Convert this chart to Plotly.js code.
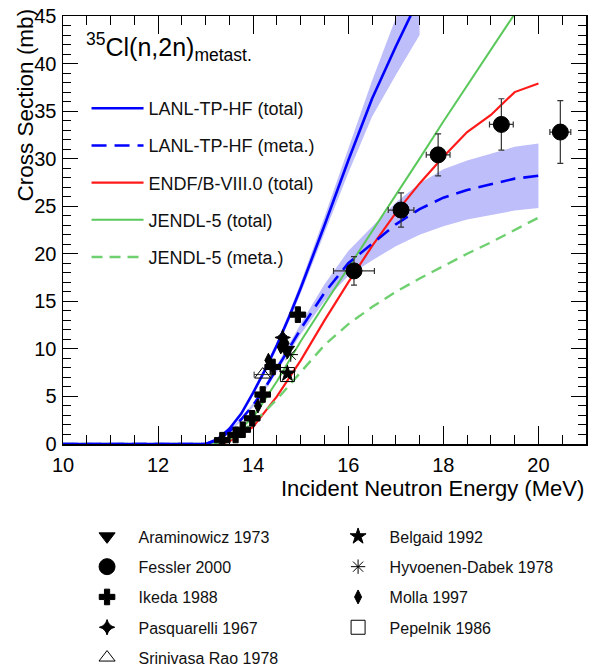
<!DOCTYPE html>
<html>
<head>
<meta charset="utf-8">
<script src="https://cdn.plot.ly/plotly-3.0.1.min.js"></script>
<style>html,body{margin:0;padding:0;background:#fff;}#chart{width:603px;height:667px;}</style>
</head>
<body>
<div id="chart"></div>
<script>
// ---- evaluated curves ----
var lanlTotalE = [10, 12, 13.0, 13.25, 13.5, 13.75, 14.0, 14.25, 14.5, 14.75, 15.0, 15.5, 16.0, 16.5, 17.0, 17.5];
var lanlTotalS = [0, 0, 0, 0.5, 1.6, 3.2, 5.4, 7.8, 10.4, 13.3, 16.4, 23.0, 29.8, 36.3, 41.8, 47.0];
var lanlTotalErr = [0, 0, 0, 0.05, 0.1, 0.15, 0.2, 0.3, 0.35, 0.45, 0.55, 0.9, 1.3, 1.9, 3.0, 4.0];

var lanlMetaE = [10, 12, 13.0, 13.25, 13.5, 13.75, 14.0, 14.25, 14.5, 14.75, 15.0, 15.5, 16.0, 16.5, 17.0, 17.5, 18.0, 18.5, 19.0, 19.5, 20.0];
var lanlMetaS = [0, 0, 0, 0.4, 1.3, 2.6, 4.1, 5.9, 7.9, 10.0, 12.1, 15.9, 19.0, 21.1, 23.1, 24.7, 25.9, 26.7, 27.3, 27.9, 28.2];
var lanlMetaErr = [0, 0, 0, 0.05, 0.1, 0.15, 0.2, 0.3, 0.35, 0.45, 0.55, 0.9, 1.3, 1.8, 2.3, 2.7, 3.0, 3.1, 3.25, 3.35, 3.4];

var endfE = [10, 13.3, 13.5, 14.0, 14.5, 15.0, 15.5, 16.0, 16.5, 17.0, 17.5, 18.0, 18.5, 19.0, 19.5, 20.0];
var endfS = [0, 0, 0.3, 1.8, 5.0, 8.8, 13.0, 17.0, 20.8, 24.3, 27.4, 30.2, 32.8, 34.6, 37.0, 37.9];

var jendlTotalE = [10, 13.3, 13.5, 14.0, 14.5, 15.0, 15.5, 16.0, 16.5, 17.0, 17.5, 18.0, 18.5, 19.0, 19.5, 20.0];
var jendlTotalS = [0, 0, 0.6, 2.8, 6.6, 10.8, 14.7, 18.5, 22.4, 26.2, 30.0, 33.9, 37.7, 41.5, 45.3, 49.0];

var jendlMetaE = [10, 13.3, 13.5, 14.0, 14.5, 15.0, 15.5, 16.0, 16.5, 17.0, 17.5, 18.0, 18.5, 19.0, 19.5, 20.0];
var jendlMetaS = [0, 0, 0.5, 2.2, 4.7, 7.5, 10.4, 12.6, 14.4, 16.0, 17.4, 18.7, 20.0, 21.2, 22.5, 23.8];

// ---- experimental data ----
var fesslerE = [16.12, 17.11, 17.89, 19.22, 20.46];
var fesslerS = [18.2, 24.6, 30.4, 33.6, 32.8];
var fesslerDE = [0.43, 0.27, 0.25, 0.25, 0.22];
var fesslerDS = [1.5, 1.8, 2.2, 2.7, 3.3];

var ikedaE = [13.35, 13.63, 13.78, 13.98, 14.2, 14.41, 14.94];
var ikedaS = [0.4, 0.95, 1.5, 2.7, 5.2, 8.1, 13.6];

var mollaE = [14.1, 14.32, 14.58, 14.68, 14.72];
var mollaS = [4.0, 8.8, 10.2, 10.6, 9.7];

var araminowiczE = [14.7];
var araminowiczS = [9.9];

var belgaidE = [14.72];
var belgaidS = [7.4];

var hyvoenenE = [14.79];
var hyvoenenS = [9.4];

var pasquarelliE = [14.62];
var pasquarelliS = [11.2];

var pepelnikE = [14.72];
var pepelnikS = [7.3];

var srinivasaE = [14.2];
var srinivasaS = [7.3];
var srinivasaDE = [0.18];

var FONT = 'Liberation Sans, Arial, Helvetica, sans-serif';
var BAND = 'rgb(190,190,250)';

function addArr(a, b, s) { return a.map(function (v, i) { return v + s * b[i]; }); }

var traces = [];
// bands
traces.push({x: lanlTotalE, y: addArr(lanlTotalS, lanlTotalErr, -1), mode: 'lines', line: {width: 0, color: BAND}, showlegend: false, hoverinfo: 'skip'});
traces.push({x: lanlTotalE, y: addArr(lanlTotalS, lanlTotalErr, 1), mode: 'lines', line: {width: 0, color: BAND}, fill: 'tonexty', fillcolor: BAND, showlegend: false, hoverinfo: 'skip'});
traces.push({x: lanlMetaE, y: addArr(lanlMetaS, lanlMetaErr, -1), mode: 'lines', line: {width: 0, color: BAND}, showlegend: false, hoverinfo: 'skip'});
traces.push({x: lanlMetaE, y: addArr(lanlMetaS, lanlMetaErr, 1), mode: 'lines', line: {width: 0, color: BAND}, fill: 'tonexty', fillcolor: BAND, showlegend: false, hoverinfo: 'skip'});

var legendLines = [];
legendLines.push({x: lanlTotalE, y: lanlTotalS, name: 'LANL-TP-HF (total)', mode: 'lines', line: {color: '#0000ff', width: 2.6}, legend: 'legend', legendgroup: 'a', legendrank: 1});
legendLines.push({x: lanlMetaE, y: lanlMetaS, name: 'LANL-TP-HF (meta.)', mode: 'lines', line: {color: '#0000ff', width: 2.6, dash: '15px,8px'}, legend: 'legend', legendgroup: 'b', legendrank: 2});
legendLines.push({x: endfE, y: endfS, name: 'ENDF/B-VIII.0 (total)', mode: 'lines', line: {color: '#ff1a1a', width: 2.2}, legend: 'legend', legendgroup: 'c', legendrank: 3});
legendLines.push({x: jendlTotalE, y: jendlTotalS, name: 'JENDL-5 (total)', mode: 'lines', line: {color: '#5ac85a', width: 2.0}, legend: 'legend', legendgroup: 'd', legendrank: 4});
legendLines.push({x: jendlMetaE, y: jendlMetaS, name: 'JENDL-5 (meta.)', mode: 'lines', line: {color: '#6fd06f', width: 2.4, dash: '11px,7px'}, legend: 'legend', legendgroup: 'e', legendrank: 5});
// draw order: red, green first, blue on top
traces.push(legendLines[2], legendLines[3], legendLines[4], legendLines[1], legendLines[0]);

function pts(name, x, y, sym, size, leg, grp, rank, extra) {
  var t = {x: x, y: y, name: name, mode: 'markers', legend: leg, legendgroup: grp, legendrank: rank,
    marker: {symbol: sym, size: size, color: '#000', line: {color: '#000', width: 1}}};
  for (var k in extra) t[k] = extra[k];
  return t;
}
var ebar = {color: '#333', thickness: 1.2, width: 3};
traces.push(pts('Araminowicz 1973', araminowiczE, araminowiczS, 'triangle-down', 14, 'legend2', 'p1', 1));
traces.push(pts('Fessler 2000', fesslerE, fesslerS, 'circle', 16, 'legend2', 'p2', 2, {
  error_x: {type: 'data', array: fesslerDE, color: ebar.color, thickness: ebar.thickness, width: ebar.width},
  error_y: {type: 'data', array: fesslerDS, color: ebar.color, thickness: ebar.thickness, width: ebar.width}}));
traces.push(pts('Ikeda 1988', ikedaE, ikedaS, 'cross', 13, 'legend2', 'p3', 3));
traces.push(pts('Pasquarelli 1967', pasquarelliE, pasquarelliS, 'star-diamond', 11, 'legend2', 'p4', 4));
traces.push(pts('Srinivasa Rao 1978', srinivasaE, srinivasaS, 'triangle-up-open', 14, 'legend2', 'p5', 5, {
  error_x: {type: 'data', array: srinivasaDE, color: ebar.color, thickness: 1, width: 3}}));
traces.push(pts('Belgaid 1992', belgaidE, belgaidS, 'star', 12, 'legend3', 'q1', 1));
traces.push(pts('Hyvoenen-Dabek 1978', hyvoenenE, hyvoenenS, 'asterisk-open', 12, 'legend3', 'q2', 2));
traces.push(pts('Molla 1997', mollaE, mollaS, 'diamond-tall', 10, 'legend3', 'q3', 3));
traces.push(pts('Pepelnik 1986', pepelnikE, pepelnikS, 'square-open', 14, 'legend3', 'q4', 4));

var layout = {
  width: 603, height: 667,
  margin: {l: 63, r: 17, t: 16, b: 223, pad: 0, autoexpand: false},
  paper_bgcolor: '#fff', plot_bgcolor: '#fff',
  font: {family: FONT, size: 20, color: '#000'},
  showlegend: true,
  xaxis: {
    range: [10, 21], tick0: 10, dtick: 2, ticks: 'inside', ticklen: 18, tickwidth: 1, tickcolor: '#000',
    showline: true, linecolor: '#000', linewidth: 1.5, mirror: 'ticks', showgrid: false, zeroline: false,
    tickfont: {family: FONT, size: 20}, ticklabelstandoff: 2, automargin: false,
    minor: {dtick: 0.5, ticks: 'inside', ticklen: 9, tickcolor: '#000', tickwidth: 1, showgrid: false}
  },
  yaxis: {
    range: [0, 45], tick0: 0, dtick: 5, ticks: 'inside', ticklen: 15, tickwidth: 1, tickcolor: '#000',
    showline: true, linecolor: '#000', linewidth: 1.5, mirror: 'ticks', showgrid: false, zeroline: false,
    tickfont: {family: FONT, size: 20}, ticklabelstandoff: 1, automargin: false,
    minor: {dtick: 1, ticks: 'inside', ticklen: 8, tickcolor: '#000', tickwidth: 1, showgrid: false}
  },
  legend: {x: 0.045, y: 0.827, xanchor: 'left', yanchor: 'top', bgcolor: 'rgba(0,0,0,0)', borderwidth: 0,
    font: {family: FONT, size: 18, color: '#111'}, tracegroupgap: 10.8, itemwidth: 52, traceorder: 'grouped'},
  legend2: {x: 0.024, y: -0.1763, xanchor: 'left', yanchor: 'top', bgcolor: 'rgba(0,0,0,0)', borderwidth: 0,
    font: {family: FONT, size: 16, color: '#111'}, tracegroupgap: 6.5, itemwidth: 53, traceorder: 'grouped'},
  legend3: {x: 0.504, y: -0.1763, xanchor: 'left', yanchor: 'top', bgcolor: 'rgba(0,0,0,0)', borderwidth: 0,
    font: {family: FONT, size: 16, color: '#111'}, tracegroupgap: 6.5, itemwidth: 53, traceorder: 'grouped'},
  annotations: [
    {xref: 'paper', yref: 'paper', x: 0.04, y: 0.927, xanchor: 'left', yanchor: 'middle', showarrow: false,
      text: '<sup>35</sup>Cl(n,2n)<sub>metast.</sub>', font: {family: FONT, size: 25, color: '#000'}},
    {xref: 'paper', yref: 'paper', x: 1, y: -0.103, xanchor: 'right', yanchor: 'middle', showarrow: false,
      text: 'Incident Neutron Energy (MeV)', font: {family: FONT, size: 22, color: '#000'}},
    {xref: 'paper', yref: 'paper', x: -0.072, y: 1.022, xanchor: 'center', yanchor: 'top', textangle: -90, showarrow: false,
      text: 'Cross Section (mb)', font: {family: FONT, size: 22.5, color: '#000'}}
  ]
};

Plotly.newPlot('chart', traces, layout, {displayModeBar: false, staticPlot: true});
</script>
</body>
</html>
